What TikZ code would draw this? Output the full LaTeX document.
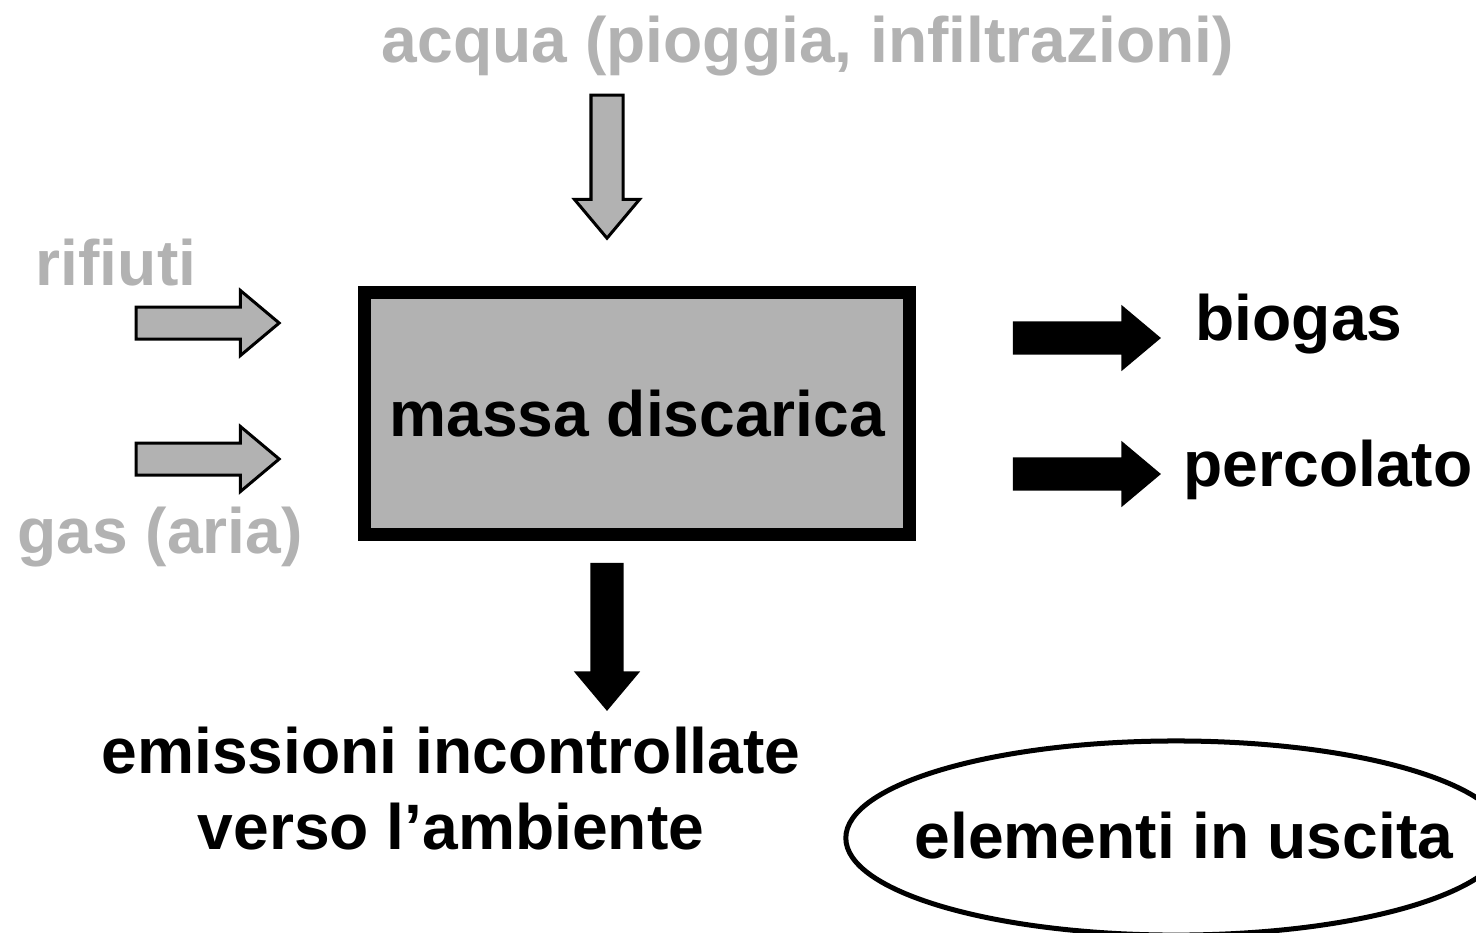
\documentclass[tikz,border=0pt]{standalone}
\usepackage{fontspec}
\setmainfont{Liberation Sans}
\usetikzlibrary{shapes.arrows,shapes.geometric}
\definecolor{massgray}{RGB}{178,178,178}

\begin{document}
\begin{tikzpicture}[x=0.01cm,y=-0.01cm,
    every node/.style={inner sep=0pt,font=\fontsize{18.25}{21}\selectfont\bfseries},
    intext/.style={text=massgray,anchor=base},
    outtext/.style={text=black,anchor=base},
    inarrow/.style={single arrow,draw=black,line width=0.03cm,fill=massgray,
        inner xsep=0pt,inner ysep=0.145cm,single arrow head extend=0.165cm,
        minimum height=1.43cm,single arrow tip angle=80},
    outarrow/.style={single arrow,fill=black,
        inner xsep=0pt,inner ysep=0.16cm,single arrow head extend=0.165cm,
        minimum height=1.48cm,single arrow tip angle=80}]
    \useasboundingbox (0,0) rectangle (1476,932);
    \clip (0,0) rectangle (1476,932);

    % central mass
    \node [draw=black,line width=0.13cm,fill=massgray,
        minimum width=5.445cm,minimum height=2.415cm] (massa) at (637.25,413.25) {massa discarica};

    % inputs
    \node [intext] (acqua) at (808,62) {acqua (pioggia, infiltrazioni)};
    \node [intext] (rifiuti) at (116,285) {rifiuti};
    \node [intext] (gas) at (160,553) {gas (aria)};
    \node [inarrow,rotate=-90,anchor=tip] (acquaarrow) at (607,240.5) {};
    \node [inarrow,anchor=tip] (rifiutiarrow) at (281.5,323) {};
    \node [inarrow,anchor=tip] (gasarrow) at (281.5,459) {};

    % outputs
    \node [outarrow,anchor=tip] (biogasarrow) at (1162,338) {};
    \node [outarrow,anchor=tip] (percolatoarrow) at (1162,474) {};
    \node [outarrow,rotate=-90,anchor=tip] (emissioniarrow) at (607,712) {};
    \node [outtext] (biogas) at (1299,340) {biogas};
    \node [outtext] (percolato) at (1328,486) {percolato};
    \node [outtext] (emissioni) at (451,773) {emissioni incontrollate};
    \node [outtext] (ambiente) at (451,849) {verso l’ambiente};

    \node [ellipse,draw=black,line width=0.05cm,
        minimum width=6.6cm,minimum height=1.94cm] (uscita) at (1176,838) {};
    \node [outtext] (uscitatext) at (1184,858) {elementi in uscita};
\end{tikzpicture}
\end{document}
